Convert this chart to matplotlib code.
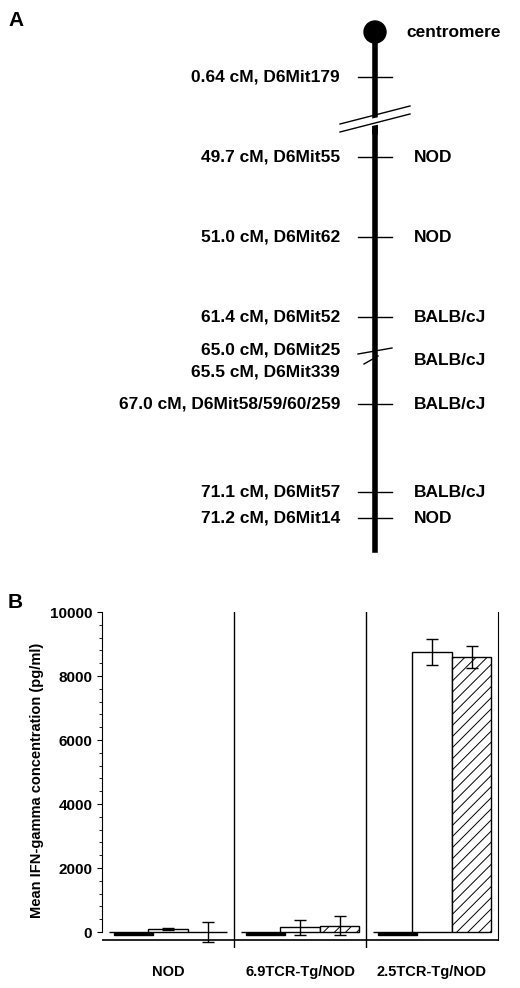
import matplotlib
matplotlib.use("Agg")
import matplotlib.pyplot as plt
import numpy as np

plt.rcParams['font.family'] = ['Liberation Sans', 'DejaVu Sans']
plt.rcParams['font.weight'] = 'bold'
plt.rcParams['hatch.color'] = '#555555'
plt.rcParams['hatch.linewidth'] = 0.7

# Panel A data
marker_labels = ["0.64 cM, D6Mit179", "49.7 cM, D6Mit55", "51.0 cM, D6Mit62", "61.4 cM, D6Mit52",
                 "65.0 cM, D6Mit25", "65.5 cM, D6Mit339", "67.0 cM, D6Mit58/59/60/259",
                 "71.1 cM, D6Mit57", "71.2 cM, D6Mit14"]
marker_ypix = [77, 157, 237, 317, 350, 372, 404, 492, 518]
strain = ["", "NOD", "NOD", "BALB/cJ", "BALB/cJ", None, "BALB/cJ", "BALB/cJ", "NOD"]

# Panel B data
groups = ["NOD", "6.9TCR-Tg/NOD", "2.5TCR-Tg/NOD"]
black_vals = [0, 0, 0]
white_vals = [100, 150, 8750]
white_err = [40, 230, 400]
hatch_vals = [0, 200, 8600]
hatch_err = [300, 300, 350]

fig = plt.figure(figsize=(5.2, 9.88), dpi=100)

axA = fig.add_axes([0, 1 - 560/988, 1, 560/988])
axA.set_xlim(0, 520); axA.set_ylim(560, 0); axA.axis('off')
axA.plot([375, 375], [32, 132], color='k', lw=4)
axA.plot([375, 375], [128, 550], color='k', lw=4)
axA.add_patch(plt.Circle((375, 32), 11, color='k'))
axA.text(406, 32, "centromere", fontsize=12.5, va='center', ha='left', weight='bold')
axA.fill_between([330, 420], [128, 108], [134, 114], color='white', zorder=3)
axA.plot([340, 410], [132, 114], color='k', lw=1, zorder=4)
axA.plot([340, 410], [124, 106], color='k', lw=1, zorder=4)
for i, (lab, y, s) in enumerate(zip(marker_labels, marker_ypix, strain)):
    axA.text(340, y, lab, fontsize=12.5, ha='right', va='center', weight='bold')
    if i == 4:
        axA.plot([358, 392], [y+4, y-2], color='k', lw=1)
    elif i == 5:
        axA.plot([364, 378], [y-8, y-16], color='k', lw=1)
    else:
        axA.plot([358, 392], [y, y], color='k', lw=1)
    if s:
        axA.text(414, y if i != 4 else 360, s, fontsize=12.5, ha='left', va='center', weight='bold')
fig.text(8/520, 1 - 20/988, "A", fontsize=15, weight='bold', va='center')
fig.text(8/520, 1 - 603/988, "B", fontsize=15, weight='bold', va='center')

# Panel B
axB = fig.add_axes([102/520, 1 - 948/988, 396/520, (948 - 612)/988])
x = np.arange(3)
w = 0.3
axB.bar(x - w, black_vals, w, color='k', edgecolor='k')
axB.bar(x - w + 0.04, [70]*3, w, bottom=-90, color='k', edgecolor='k')
axB.bar(x, white_vals, w, color='white', edgecolor='k', lw=1, yerr=white_err, capsize=4, error_kw=dict(lw=1))
axB.bar(x + w, hatch_vals, w, color='white', edgecolor='k', hatch='///', lw=1, yerr=hatch_err, capsize=4, error_kw=dict(lw=1))
for xb in [0.5, 1.5]:
    axB.axvline(xb, color='k', lw=1)
axB.plot([-0.5, 2.5], [-250, -250], color='k', lw=1.2)
axB.set_xlim(-0.5, 2.5)
axB.set_ylim(-500, 10000)
axB.set_yticks([0, 2000, 4000, 6000, 8000, 10000])
axB.set_yticks(np.arange(0, 10001, 400), minor=True)
axB.set_xticks(x)
axB.set_xticklabels(groups, fontsize=10.5, weight='bold')
axB.tick_params(axis='x', length=0, pad=12)
axB.tick_params(axis='y', labelsize=11)
for lab in axB.get_yticklabels():
    lab.set_weight('bold')
axB.spines['top'].set_visible(False)
axB.spines['bottom'].set_visible(False)
axB.spines['left'].set_bounds(0, 10000)
axB.spines['right'].set_bounds(-250, 10000)
axB.set_ylabel("Mean IFN-gamma concentration (pg/ml)", fontsize=10.5, weight='bold')

fig.savefig("out.png", dpi=100)
